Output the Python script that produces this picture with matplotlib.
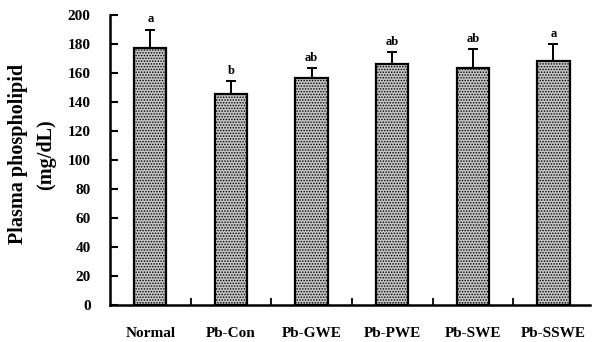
import matplotlib
matplotlib.use("Agg")
import matplotlib.pyplot as plt
import numpy as np

categories = ["Normal", "Pb-Con", "Pb-GWE", "Pb-PWE", "Pb-SWE", "Pb-SSWE"]
means = [177, 145.5, 156.5, 166, 163.5, 168]
errors = [13, 9, 7, 8.5, 13, 12]
letters = ["a", "b", "ab", "ab", "ab", "a"]

plt.rcParams['font.family'] = ['Liberation Serif', 'DejaVu Serif']
plt.rcParams['hatch.color'] = '#3a3a3a'
plt.rcParams['hatch.linewidth'] = 0.7

fig = plt.figure(figsize=(5.93, 3.42), dpi=100)
ax = fig.add_axes([0.1855, 0.108, 0.809, 0.848])

x = np.arange(len(categories))
ax.bar(x, means, width=0.4, color='#c4c4c4', edgecolor='black', linewidth=1.6,
       hatch='......', zorder=2)
ax.errorbar(x, means, yerr=[np.zeros(len(means)), errors], fmt='none',
            ecolor='black', elinewidth=1.4, capsize=3.5, capthick=1.4, zorder=1)
for xi, m, e, l in zip(x, means, errors, letters):
    ax.text(xi, m + e + 3, l, ha='center', va='bottom', fontsize=9,
            fontweight='bold')

ax.set_xlim(-0.5, 5.45)
ax.set_ylim(0, 200)
ax.set_yticks(np.arange(0, 201, 20))
ax.set_yticklabels([str(v) for v in range(0, 201, 20)], fontsize=11,
                   fontweight='bold')
ax.set_xticks(x)
ax.set_xticklabels(categories, fontsize=11, fontweight='bold')
ax.set_xticks(np.arange(0.5, 5.0, 1), minor=True)
ax.tick_params(axis='x', which='major', length=0, pad=16)
ax.tick_params(axis='x', which='minor', direction='in', length=5, width=1.3)
ax.tick_params(axis='y', direction='in', length=6, width=1.5, pad=14)
for s in ['top', 'right']:
    ax.spines[s].set_visible(False)
for s in ['left', 'bottom']:
    ax.spines[s].set_linewidth(1.8)

ax.set_ylabel("Plasma phospholipid\n(mg/dL)", fontsize=14.5, fontweight='bold',
              linespacing=1.55)
ax.yaxis.set_label_coords(-0.113, 0.52)

fig.savefig("out.png", dpi=100)
